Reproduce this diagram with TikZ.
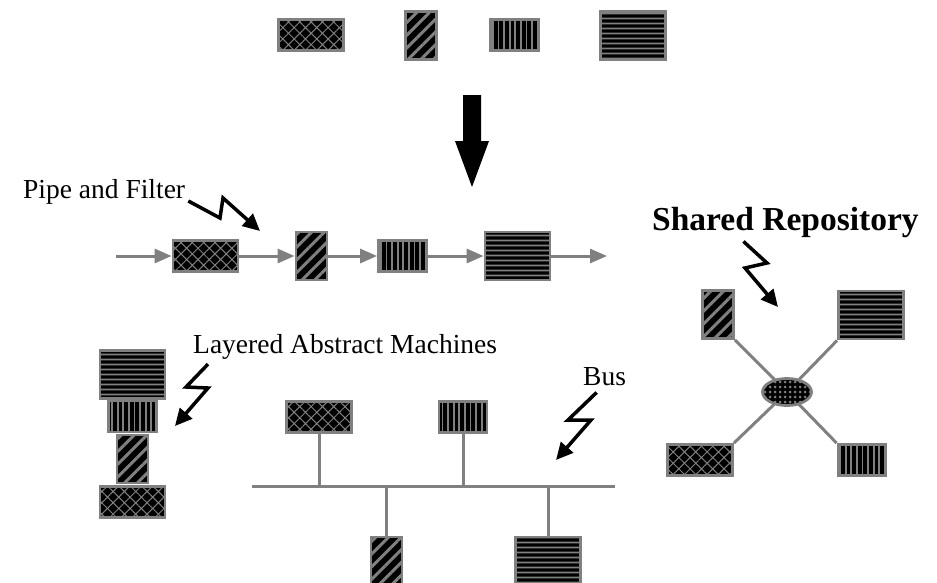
\documentclass[tikz,border=0pt]{standalone}
\usepackage{fontspec}
\setmainfont{Liberation Serif}
\usepackage{tikz}
\usetikzlibrary{arrows.meta, patterns.meta, shapes.geometric}

\tikzset{
  comp/.style={draw=gray, line width=2.8pt, inner sep=0pt, preaction={fill=black}, pattern color=gray},
  xhbox/.style={comp, minimum width=65pt, minimum height=31pt, pattern={Hatch[angle=45, distance=8pt, line width=1pt]}},
  nebox/.style={comp, minimum width=31pt, minimum height=48pt, pattern={Lines[angle=45, distance=9pt, line width=3pt]}},
  vlbox/.style={comp, minimum width=48pt, minimum height=31pt, pattern={Lines[angle=90, distance=5.6pt, line width=1.8pt]}},
  hlbox/.style={comp, minimum width=65pt, minimum height=48pt, pattern={Lines[angle=0, distance=5.4pt, line width=1.8pt]}},
  hubnode/.style={comp, ellipse, minimum width=49pt, minimum height=27pt, pattern={Dots[distance=5pt, radius=1.5pt]}},
  lbl/.style={inner sep=0pt, font=\fontsize{27.5}{32}\selectfont},
  flow/.style={gray, line width=3pt, -{Triangle[length=17pt, width=14pt]}},
  wire/.style={gray, line width=3pt},
  bolt/.style={black, line width=3.5pt, -{Triangle[length=17pt, width=16pt]}}
}

\begin{document}
\begin{tikzpicture}[x=1pt, y=-1pt]
    \useasboundingbox (0,0) rectangle (937,582);

    % components on top
    \node[xhbox] (xh1) at (311, 35) {};
    \node[nebox] (ne1) at (421, 35.5) {};
    \node[vlbox] (vl1) at (514.5, 35) {};
    \node[hlbox] (hl1) at (633, 35.5) {};

    % big arrow down
    \fill (463,95) -- (481,95) -- (481,141) -- (489,141) -- (472,187)
        -- (455,141) -- (463,141) -- cycle;

    % pipe and filter
    \node[lbl, anchor=base west] (pipelbl) at (23,198) {Pipe and Filter};
    \coordinate (pipein) at (116,256);
    \coordinate (pipeout) at (607,256);
    \node[xhbox] (xh2) at (205.5,256) {};
    \node[nebox] (ne2) at (311.5,256) {};
    \node[vlbox] (vl2) at (402.5,256) {};
    \node[hlbox] (hl2) at (517.5,256) {};
    \draw[flow] (pipein) -- (xh2);
    \draw[flow] (xh2) -- (ne2);
    \draw[flow] (ne2) -- (vl2);
    \draw[flow] (vl2) -- (hl2);
    \draw[flow] (hl2) -- (pipeout);
    \coordinate (pipetip) at (260,231);
    \draw[bolt] ([xshift=3pt,yshift=-3pt]pipelbl.base east) -- (220,218) -- (223,198) -- (pipetip);

    % shared repository
    \node[lbl, font=\fontsize{33.5}{40}\selectfont\bfseries, anchor=base west] (replbl) at (652,230) {Shared Repository};
    \coordinate (reptip) at (778,307);
    \draw[bolt] ([xshift=-42pt,yshift=-4pt]replbl.south) -- (767,263) -- (745,268) -- (reptip);
    \node[nebox] (rne) at (718,314.5) {};
    \node[hlbox] (rhl) at (871,315) {};
    \node[xhbox] (rxh) at (700,460) {};
    \node[vlbox] (rvl) at (862,460) {};
    \draw[wire] (rne.south east) -- (787,392);
    \draw[wire] (rhl.south west) -- (787,392);
    \draw[wire] (rxh.north east) -- (787,392);
    \draw[wire] (rvl.north west) -- (787,392);
    \node[hubnode] (hub) at (787,392) {};

    % layered abstract machines
    \node[lbl, anchor=base west] (laylbl) at (193,353) {Layered Abstract Machines};
    \coordinate (laytip) at (175,426);
    \draw[bolt] ([xshift=15pt,yshift=-5pt]laylbl.south west) -- (186,387) -- (208,388) -- (laytip);
    \node[hlbox] (lhl) at (132.5,374.5) {};
    \node[vlbox] (lvl) at (132.5,416.5) {};
    \node[nebox] (lne) at (132.5,459) {};
    \node[xhbox] (lxh) at (132.5,502) {};

    % bus
    \node[lbl, anchor=base west] (buslbl) at (583,385) {Bus};
    \coordinate (bustip) at (556,460);
    \draw[bolt] ([xshift=-8pt,yshift=-7pt]buslbl.south) -- (568,420) -- (591,420) -- (bustip);
    \coordinate (busL) at (252,486);
    \coordinate (busR) at (615,486);
    \draw[wire] (busL) -- (busR);
    \node[xhbox] (bxh) at (319,417) {};
    \node[vlbox] (bvl) at (463,417) {};
    \node[nebox] (bne) at (386.5,561) {};
    \node[hlbox] (bhl) at (548,561) {};
    \draw[wire] (bxh) -- (bxh |- busL);
    \draw[wire] (bvl) -- (bvl |- busL);
    \draw[wire] (bne) -- (bne |- busL);
    \draw[wire] (bhl) -- (bhl |- busL);

\end{tikzpicture}
\end{document}
